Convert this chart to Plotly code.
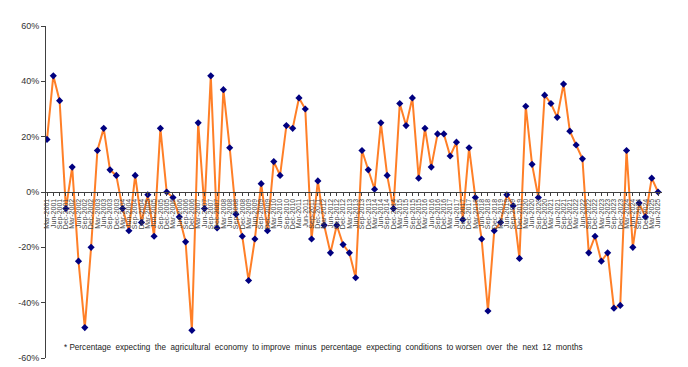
import plotly.graph_objects as go

quarters = ["Mar", "Jun", "Sep", "Dec"]
years = list(range(2001, 2026))
categories = [f"{q}-{y}" for y in years for q in quarters][:98]

sentiment = [19, 42, 33, -6, 9, -25, -49, -20, 15, 23,
             8, 6, -6, -14, 6, -11, -1, -16, 23, 0,
             -2, -9, -18, -50, 25, -6, 42, -13, 37, 16,
             -8, -16, -32, -17, 3, -14, 11, 6, 24, 23,
             34, 30, -17, 4, -12, -22, -12, -19, -22, -31,
             15, 8, 1, 25, 6, -6, 32, 24, 34, 5,
             23, 9, 21, 21, 13, 18, -10, 16, -2, -17,
             -43, -14, -11, -1, -5, -24, 31, 10, -2, 35,
             32, 27, 39, 22, 17, 12, -22, -16, -25, -22,
             -42, -41, 15, -20, -4, -9, 5, 0]

y_ticks = [-60, -40, -20, 0, 20, 40, 60]
y_tick_text = ["-60%", "-40%", "-20%", "0%", "20%", "40%", "60%"]

footnote = ("* Percentage  expecting  the  agricultural  economy  to improve  minus  percentage  "
            "expecting  conditions  to worsen  over  the  next  12  months")

fig = go.Figure()
fig.add_trace(go.Scatter(
    x=categories, y=sentiment, mode="lines+markers",
    line=dict(color="#FF7F27", width=2),
    marker=dict(symbol="diamond", size=5.5, color="#000080"),
    showlegend=False,
))

# page body has an 8px default margin, so the figure is sized 680x359
fig.update_layout(
    width=680, height=359,
    margin=dict(l=38, r=26, t=18, b=9),
    paper_bgcolor="white", plot_bgcolor="white",
    font=dict(family="Liberation Sans, Arial, sans-serif", color="#333333"),
    xaxis=dict(
        type="category", automargin=False,
        range=[-0.16, 97.63],
        anchor="free", position=0.5,
        showline=True, linecolor="#404040", linewidth=1,
        ticks="outside", ticklen=3, tickcolor="#404040",
        tickmode="array", tickvals=categories, ticktext=categories,
        tickangle=-90, tickfont=dict(size=7, color="#444444"),
        showgrid=False, zeroline=False,
    ),
    yaxis=dict(
        range=[-60, 60], automargin=False,
        showline=True, linecolor="#404040", linewidth=1,
        ticks="outside", ticklen=4, tickcolor="#404040",
        tickmode="array", tickvals=y_ticks, ticktext=y_tick_text,
        tickfont=dict(size=9, color="#333333"),
        showgrid=False, zeroline=False,
    ),
    annotations=[dict(
        text=footnote, xref="paper", yref="paper",
        x=(62 - 46) / 616, y=(358 - 347) / 332, xanchor="left", yanchor="middle",
        showarrow=False, font=dict(size=8.15, color="#222222"),
    )],
)

fig.write_html("out.html")
